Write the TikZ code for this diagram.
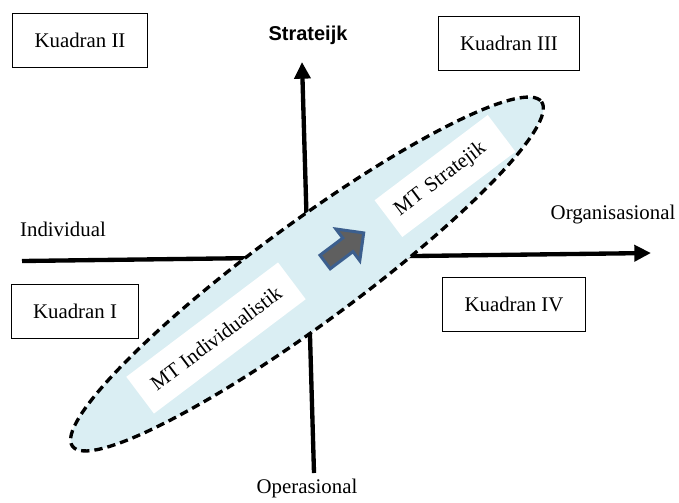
\documentclass[tikz,border=0pt]{standalone}
\usepackage{fontspec}
\setmainfont{Liberation Serif}
\newfontfamily\axisfont{Liberation Sans}
\usetikzlibrary{arrows.meta, shapes.arrows}
\definecolor{ovalblue}{HTML}{DAEEF3}
\definecolor{arrowgray}{HTML}{5F5F5F}
\definecolor{arrowedge}{HTML}{3C5F8E}

\begin{document}
\begin{tikzpicture}[x=0.6pt, y=-0.6pt,
	kuadran/.style={draw, line width=0.6pt, inner xsep=13pt, minimum height=32.4pt, font=\fontsize{12.5}{15}\selectfont},
	axis/.style={line width=2.6pt, -{Triangle[width=9.5pt,length=10pt]}},
	axislabel/.style={font=\fontsize{12.5}{15}\selectfont},
	mtbox/.style={fill=white, rotate=37, minimum height=27.6pt, font=\fontsize{12.5}{15}\selectfont}]
	\useasboundingbox (0,0) rectangle (679,502);

	\node[kuadran] (k2) at (80,40) {Kuadran II};
	\node[kuadran] (k3) at (509,43) {Kuadran III};
	\node[kuadran] (k1) at (75,311) {Kuadran I};
	\node[kuadran] (k4) at (514,304) {Kuadran IV};

	\coordinate (W) at (22,261); \coordinate (E) at (651,253);
	\coordinate (S) at (314,473); \coordinate (N) at (302,62);
	\draw[axis] (W) -- (E);
	\draw[axis] (S) -- (N);

	\node[font=\axisfont\bfseries\fontsize{12}{14}\selectfont] (strat) at (308,35) {Strateijk};
	\node[axislabel] (indiv) at (63,229) {Individual};
	\node[axislabel] (org) at (613,215) {Organisasional};
	\node[axislabel] (oper) at (307,488) {Operasional};

	\coordinate (O) at (307,274);
	\draw[fill=ovalblue, line width=2pt, dash pattern=on 5pt off 3pt, rotate around={36.3:(O)}]
		(O) ellipse [x radius=291, y radius=50];

	\node[mtbox, minimum width=114pt] (mti) at (216,338) {MT Individualistik};
	\node[mtbox, text width=72pt, inner xsep=6.5pt, align=left] (mts) at (445,176) {MT Stratejik};

	\node[single arrow, rotate=37, fill=arrowgray, draw=arrowedge, line width=1.8pt,
		inner sep=0pt, inner ysep=4.2pt, minimum height=29pt, single arrow head extend=6.8pt] (dir) at (341,250) {};
\end{tikzpicture}
\end{document}
